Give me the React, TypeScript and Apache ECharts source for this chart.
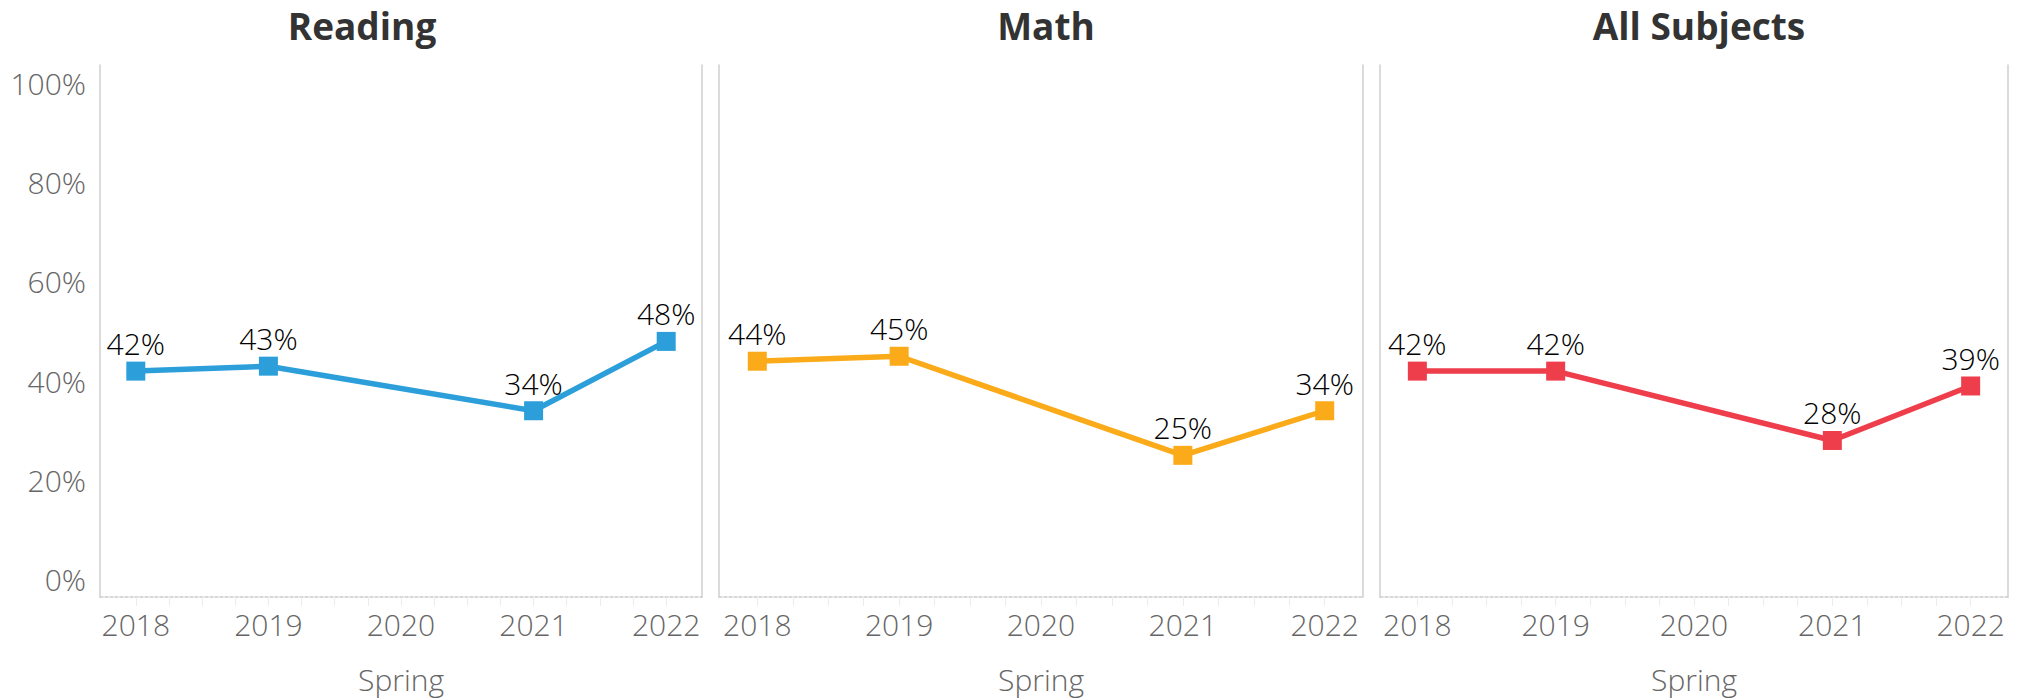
import React, { useEffect, useRef } from "react";
import * as echarts from "echarts";

const years = [2018, 2019, 2020, 2021, 2022];
const dataYears = [2018, 2019, 2021, 2022];
const readingValues = [42, 43, 34, 48];
const mathValues = [44, 45, 25, 34];
const allValues = [42, 42, 28, 39];
const panelTitles = ["Reading", "Math", "All Subjects"];
const panelColors = ["#2c9fdb", "#fbab19", "#ee3e4b"];
const yTicks = [0, 20, 40, 60, 80, 100];
const quarterTicks = [
  2018, 2018.25, 2018.5, 2018.75, 2019, 2019.25, 2019.5, 2019.75, 2020, 2020.25,
  2020.5, 2020.75, 2021, 2021.25, 2021.5, 2021.75, 2022,
];
const xAxisName = "Spring";

const FONT = "'Open Sans', sans-serif";

export default function App() {
  const ref = useRef<HTMLDivElement>(null);

  useEffect(() => {
    document.body.style.margin = "0";
    if (!ref.current) return;
    const chart = echarts.init(ref.current, undefined, { renderer: "svg" });

    const grids = [
      { left: 100, top: 65, width: 602, height: 536 },
      { left: 719, top: 65, width: 644, height: 536 },
      { left: 1380, top: 65, width: 628, height: 536 },
    ];
    const titleCenters = [357, 1041, 1694];
    const seriesValues = [readingValues, mathValues, allValues];

    const xAxes = grids.map((_, i) => ({
      type: "value",
      gridIndex: i,
      min: 2017.73,
      max: 2022.27,
      splitLine: { show: false },
      axisLine: {
        show: true,
        onZero: false,
        lineStyle: { color: "#cccccc", width: 1.5, type: [3, 2] },
      },
      axisTick: {
        show: true,
        customValues: quarterTicks,
        length: 9,
        lineStyle: { color: "#ececec", width: 1 },
      },
      axisLabel: {
        customValues: years,
        formatter: (v: number) => String(v),
        fontSize: 30,
        fontWeight: 300,
        fontFamily: FONT,
        color: "#666",
        margin: 12,
      },
      name: xAxisName,
      nameLocation: "middle",
      nameGap: 67,
      nameTextStyle: { fontSize: 30, fontWeight: 300, fontFamily: FONT, color: "#666" },
    }));

    const yAxes: any[] = [];
    grids.forEach((_, i) => {
      yAxes.push({
        type: "value",
        gridIndex: i,
        position: "left",
        min: -3.6,
        max: 103.8,
        splitLine: { show: false },
        axisLine: { show: true, lineStyle: { color: "#cfcfcf", width: 1.5 } },
        axisTick: { show: false },
        axisLabel: {
          show: i === 0,
          customValues: yTicks,
          formatter: (v: number) => v + "%",
          fontSize: 30,
          fontWeight: 300,
          fontFamily: FONT,
          color: "#666",
          margin: 14,
        },
      });
      yAxes.push({
        type: "value",
        gridIndex: i,
        position: "right",
        min: -3.6,
        max: 103.8,
        splitLine: { show: false },
        axisLine: { show: true, lineStyle: { color: "#cfcfcf", width: 1.5 } },
        axisTick: { show: false },
        axisLabel: { show: false },
      });
    });

    const series = seriesValues.map((vals, i) => ({
      type: "line",
      xAxisIndex: i,
      yAxisIndex: i * 2,
      data: dataYears.map((y, k) => [y, vals[k]]),
      symbol: "rect",
      symbolSize: 19,
      lineStyle: { width: 5.5, color: panelColors[i] },
      itemStyle: { color: panelColors[i] },
      label: {
        show: true,
        position: "top",
        distance: 3,
        formatter: (p: any) => p.value[1] + "%",
        fontSize: 30,
        fontWeight: 300,
        fontFamily: FONT,
        color: "#000",
      },
    }));

    chart.setOption({
      animation: false,
      backgroundColor: "#fff",
      title: panelTitles.map((t, i) => ({
        text: t,
        left: titleCenters[i],
        top: 2,
        textAlign: "center",
        textStyle: {
          fontSize: 37,
          fontWeight: "bold",
          fontFamily: FONT,
          color: "#333",
        },
      })),
      grid: grids,
      xAxis: xAxes,
      yAxis: yAxes,
      series,
    });

    return () => chart.dispose();
  }, []);

  return <div ref={ref} style={{ width: 2023, height: 699 }} />;
}
